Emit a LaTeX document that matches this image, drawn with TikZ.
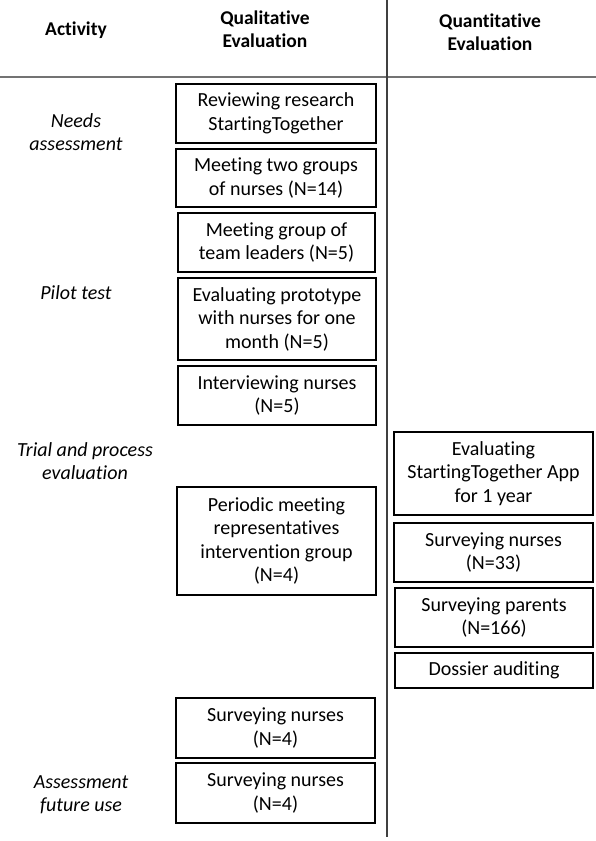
\documentclass[tikz,border=0pt]{standalone}
\usepackage{fontspec}
\setmainfont{Carlito}[Ligatures=NoCommon]
\begin{document}
\begin{tikzpicture}[x=1pt,y=-1pt,
  box/.style={draw=black,line width=1.6pt,inner sep=0pt,align=center,
    font=\fontsize{20}{23.5}\selectfont},
  act/.style={align=center,font=\fontsize{20}{23}\selectfont\itshape},
  head/.style={align=center,font=\fontsize{19.5}{22.5}\selectfont\bfseries},
  rule/.style={line width=1.6pt}]
\useasboundingbox (0,0) rectangle (596,841);
% lines
\coordinate (hl) at (0,77);
\coordinate (hr) at (596,77);
\coordinate (vt) at (387,0);
\coordinate (vb) at (387,837);
\draw[rule,draw=black!55] (hl) -- (hr);
\draw[rule,draw=black!75] (vt) -- (vb);
% headers
\node[head] (hact) at (76,30) {Activity};
\node[head] (hqual) at (265,29) {Qualitative\\Evaluation};
\node[head] (hquan) at (490,32) {Quantitative\\Evaluation};
% activity labels
\node[act] (a1) at (76,132) {Needs\\assessment};
\node[act] (a2) at (76,293) {Pilot test};
\node[act] (a3) at (85,461.5) {Trial and process\\evaluation};
\node[act] (a4) at (81,795) {Assessment\\future use};
% boxes
\newcommand{\qbox}[6]{\node[box,minimum width={#4-#2},minimum height={#5-#3}] (#1) at ({(#2+#4)/2},{(#3+#5)/2}) {#6};}
\qbox{q1}{176}{84}{376}{143}{Reviewing research\\StartingTogether}
\qbox{q2}{176}{149}{376}{207}{Meeting two groups\\of nurses (N=14)}
\qbox{q3}{178}{213}{375}{272}{Meeting group of\\team leaders (N=5)}
\qbox{q4}{178}{278}{376}{360}{Evaluating prototype\\with nurses for one\\month (N=5)}
\qbox{q5}{178}{366}{376}{425}{Interviewing nurses\\(N=5)}
\qbox{q6}{177}{487}{376}{595}{Periodic meeting\\representatives\\intervention group\\(N=4)}
\qbox{q7}{176}{698}{375}{758}{Surveying nurses\\(N=4)}
\qbox{q8}{176}{763}{375}{823}{Surveying nurses\\(N=4)}
\qbox{r1}{394}{432}{593}{515}{Evaluating\\StartingTogether App\\for 1 year}
\qbox{r2}{394}{523}{593}{582}{Surveying nurses\\(N=33)}
\qbox{r3}{395}{588}{593}{647}{Surveying parents\\(N=166)}
\qbox{r4}{395}{653}{593}{688}{Dossier auditing}
\end{tikzpicture}
\end{document}
